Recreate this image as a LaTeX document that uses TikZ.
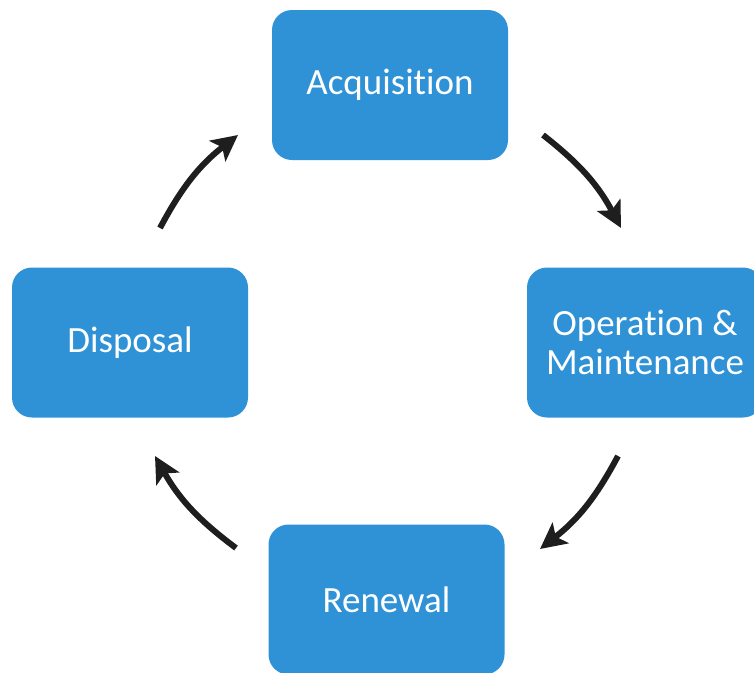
\documentclass[tikz,border=0pt]{standalone}
\usepackage{fontspec}
\setmainfont[RawFeature={-liga;-clig;-dlig}]{Carlito}
\usetikzlibrary{arrows.meta}
\definecolor{boxblue}{RGB}{48,146,214}
\definecolor{arrowdark}{RGB}{30,30,30}
\tikzset{
  phase/.style={fill=boxblue, rounded corners=20pt, minimum width=236pt, minimum height=150pt,
    text=white, align=center, font=\fontsize{37}{39}\selectfont, inner sep=0pt},
  cyclearrow/.style={draw=arrowdark, line width=6pt,
    -{Stealth[length=26pt,width=26pt,inset=6pt]}}
}
\begin{document}
\begin{tikzpicture}[x=1pt,y=-1pt]
\useasboundingbox (0,0) rectangle (754,672);
\node[phase] (acq) at (390,85) {Acquisition};
\node[phase] (om) at (645,342.5) {Operation \&\\Maintenance};
\node[phase] (ren) at (386.5,599.5) {Renewal};
\node[phase] (dis) at (130,342.5) {Disposal};
\coordinate (a1s) at (543,135);
\coordinate (a1e) at (621,228);
\coordinate (a2s) at (618,456);
\coordinate (a2e) at (540,549);
\coordinate (a3s) at (236,548);
\coordinate (a3e) at (155,456);
\coordinate (a4s) at (160,228);
\coordinate (a4e) at (238,135);
\draw[cyclearrow] (a1s) to[bend left=12] (a1e);
\draw[cyclearrow] (a2s) to[bend left=12] (a2e);
\draw[cyclearrow] (a3s) to[bend left=12] (a3e);
\draw[cyclearrow] (a4s) to[bend left=12] (a4e);
\end{tikzpicture}
\end{document}
